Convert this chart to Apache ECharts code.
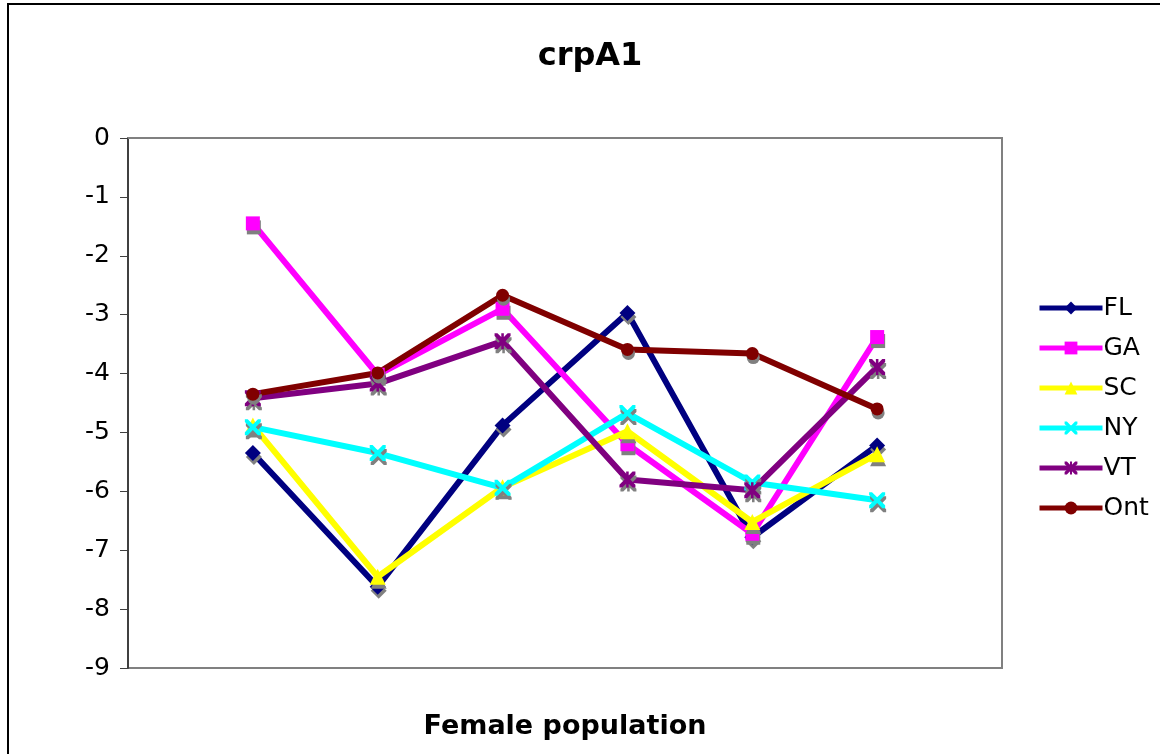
<!DOCTYPE html>
<html>
<head>
<meta charset="utf-8">
<script src="https://cdn.jsdelivr.net/npm/echarts@6/dist/echarts.min.js"></script>
<style>
  html, body { margin: 0; padding: 0; background: #ffffff; }
  #chart { width: 1160px; height: 754px; }
</style>
</head>
<body>
<div id="chart"></div>
<script>
// Six sampled sites along the x axis; an empty slot pads each end of the axis.
const samples = ['1', '2', '3', '4', '5', '6'];

// crpA1 values per population
const FL  = [-5.35, -7.62, -4.88, -2.97, -6.78, -5.22];
const GA  = [-1.45, -4.02, -2.90, -5.20, -6.72, -3.38];
const SC  = [-4.88, -7.45, -5.93, -4.98, -6.52, -5.37];
const NY  = [-4.91, -5.35, -5.94, -4.67, -5.85, -6.15];
const VT  = [-4.42, -4.17, -3.45, -5.80, -5.98, -3.89];
const Ont = [-4.35, -3.99, -2.67, -3.59, -3.66, -4.60];

const yTicks = [0, -1, -2, -3, -4, -5, -6, -7, -8, -9];

const FONT = '"DejaVu Sans", Verdana, sans-serif';

// marker shapes
const X_MARK = 'path://M0,0L1.8,0L5,3.2L8.2,0L10,0L10,1.8L6.8,5L10,8.2L10,10L8.2,10L5,6.8L1.8,10L0,10L0,8.2L3.2,5L0,1.8Z';
const STAR_MARK = X_MARK + 'M4.2,0L5.8,0L5.8,10L4.2,10Z';

const seriesDefs = [
  { name: 'FL',  data: FL,  color: '#000080', symbol: 'diamond',  size: 16 },
  { name: 'GA',  data: GA,  color: '#ff00ff', symbol: 'rect',     size: 14 },
  { name: 'SC',  data: SC,  color: '#ffff00', symbol: 'triangle', size: 16 },
  { name: 'NY',  data: NY,  color: '#00ffff', symbol: X_MARK,     size: 16 },
  { name: 'VT',  data: VT,  color: '#800080', symbol: STAR_MARK,  size: 16 },
  { name: 'Ont', data: Ont, color: '#800000', symbol: 'circle',   size: 13 }
];

const categories = [''].concat(samples, ['']);

const chart = echarts.init(document.getElementById('chart'), null, { renderer: 'canvas' });

chart.setOption({
  animation: false,
  backgroundColor: '#ffffff',
  title: {
    text: 'crpA1',
    left: 585,
    textAlign: 'center',
    top: 36,
    textStyle: { fontFamily: FONT, fontWeight: 'bold', fontSize: 32, color: '#000000' }
  },
  graphic: [{
    type: 'rect',
    shape: { x: 8, y: 4, width: 1170, height: 770 },
    style: { fill: 'none', stroke: '#000000', lineWidth: 2 },
    silent: true,
    z: -1
  }],
  grid: {
    left: 128, right: 158, top: 138, bottom: 86,
    show: true,
    borderColor: '#808080',
    borderWidth: 2,
    backgroundColor: 'transparent'
  },
  legend: {
    orient: 'vertical',
    left: 1032,
    top: 290,
    itemWidth: 63,
    itemHeight: 16,
    itemGap: 14,
    data: seriesDefs.map(s => s.name),
    lineStyle: { width: 5 },
    itemStyle: { shadowColor: 'rgba(0,0,0,0)', shadowBlur: 0, shadowOffsetX: 0, shadowOffsetY: 0 },
    textStyle: { fontFamily: FONT, fontSize: 25, color: '#000000', lineHeight: 26, padding: [0, 0, 0, -4] }
  },
  xAxis: {
    type: 'category',
    data: categories,
    boundaryGap: false,
    name: 'Female population',
    nameLocation: 'middle',
    nameGap: 45,
    nameTextStyle: { fontFamily: FONT, fontWeight: 'bold', fontSize: 27, color: '#000000' },
    axisLine: { show: true, lineStyle: { color: '#808080', width: 2 } },
    axisTick: { show: false },
    axisLabel: { show: false },
    splitLine: { show: false }
  },
  yAxis: {
    type: 'value',
    min: -9,
    max: 0,
    interval: 1,
    axisLine: { show: true, lineStyle: { color: '#404040', width: 2 } },
    axisTick: { show: true, length: 8, lineStyle: { color: '#404040', width: 1 } },
    axisLabel: {
      margin: 18,
      fontFamily: FONT,
      fontSize: 25,
      color: '#000000',
      formatter: v => (yTicks.indexOf(v) >= 0 ? String(v) : '')
    },
    splitLine: { show: false }
  },
  series: seriesDefs.map(s => ({
    name: s.name,
    type: 'line',
    data: [null].concat(s.data, [null]),
    symbol: s.symbol,
    symbolSize: s.size,
    showAllSymbol: true,
    connectNulls: false,
    color: s.color,
    lineStyle: { color: s.color, width: 6 },
    itemStyle: {
      color: s.color,
      shadowColor: '#808080',
      shadowBlur: 0,
      shadowOffsetX: 1,
      shadowOffsetY: 4
    },
    emphasis: { disabled: true }
  }))
});
</script>
</body>
</html>
